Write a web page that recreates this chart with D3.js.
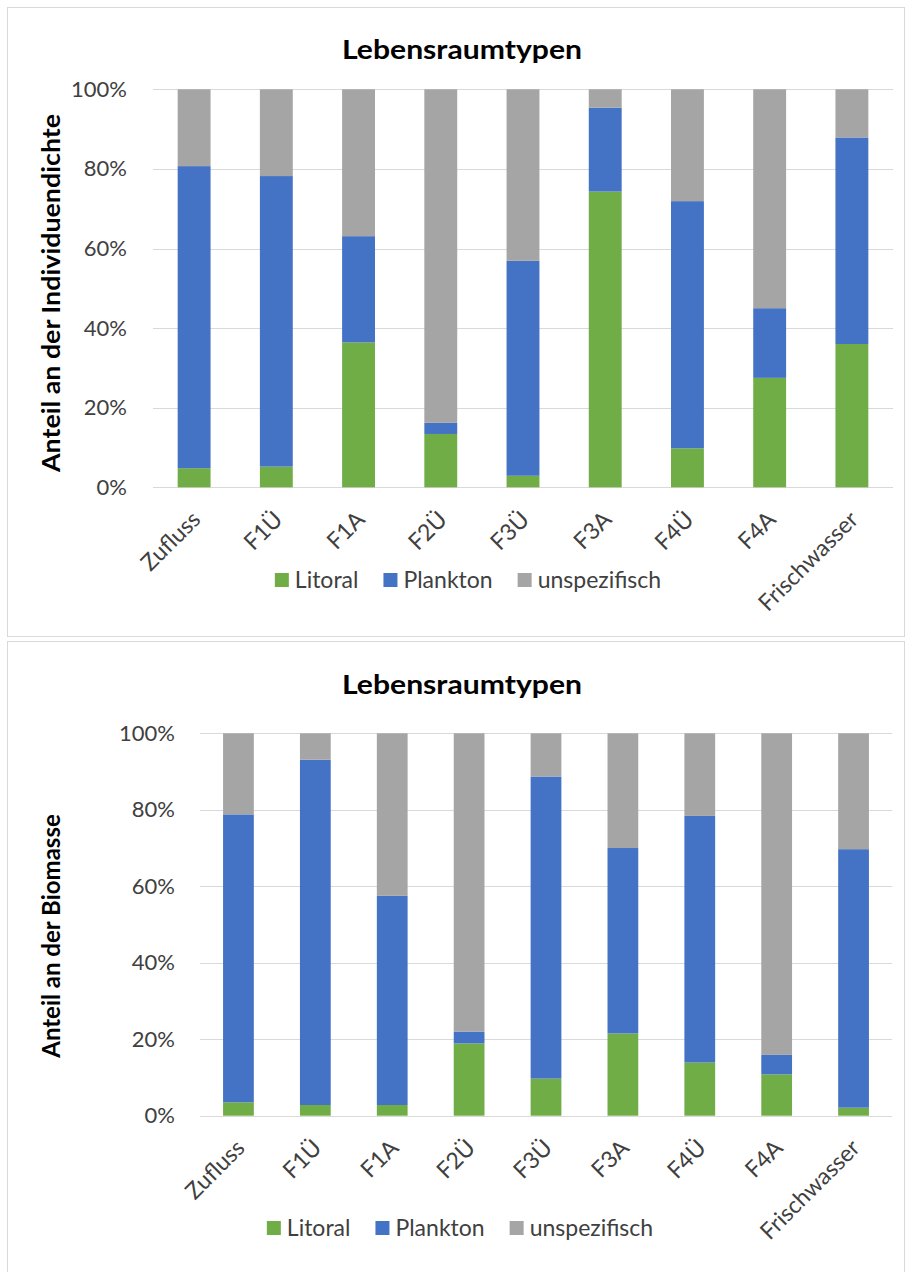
<!DOCTYPE html>
<html>
<head>
<meta charset="utf-8">
<script src="https://cdn.jsdelivr.net/npm/d3@7"></script>
<style>
  html, body { margin: 0; padding: 0; background: #fff; }
  svg { display: block; font-family: Lato, "Open Sans", sans-serif; }
</style>
</head>
<body>
<svg id="chart" width="907" height="1272"></svg>
<script>
// ---- data ----
const categories = ["Zufluss", "F1Ü", "F1A", "F2Ü", "F3Ü", "F3A", "F4Ü", "F4A", "Frischwasser"];
const seriesNames = ["Litoral", "Plankton", "unspezifisch"];
const seriesColors = ["#70AD47", "#4472C4", "#A5A5A5"];
const yTicks = [0, 0.2, 0.4, 0.6, 0.8, 1.0];

// Anteil an der Individuendichte (%)
const dichteLitoral      = [4.8, 5.2, 36.4, 13.4, 2.9, 74.3, 9.8, 27.5, 36.0];
const dichtePlankton     = [75.9, 73.0, 26.7, 2.8, 54.0, 21.1, 62.1, 17.5, 51.9];
const dichteUnspezifisch = [19.3, 21.8, 36.9, 83.8, 43.1, 4.6, 28.1, 55.0, 12.1];

// Anteil an der Biomasse (%)
const biomasseLitoral      = [3.5, 2.8, 2.8, 18.9, 9.7, 21.5, 13.9, 10.8, 2.1];
const biomassePlankton     = [75.3, 90.3, 54.7, 3.1, 79.0, 48.5, 64.5, 5.1, 67.6];
const biomasseUnspezifisch = [21.2, 6.9, 42.5, 78.0, 11.3, 30.0, 21.6, 84.1, 30.3];

const svg = d3.select("#chart");

function drawPanel(opts) {
  const g = svg.append("g");
  // panel border
  g.append("rect")
    .attr("x", 7.5).attr("y", opts.panelTop + 0.5)
    .attr("width", 897).attr("height", opts.panelHeight)
    .attr("fill", "#fff").attr("stroke", "#d9d9d9").attr("stroke-width", 1);

  const rows = categories.map((c, i) => {
    const r = { cat: c };
    seriesNames.forEach((s, k) => r[s] = opts.series[k][i] / 100);
    return r;
  });
  const stacked = d3.stack().keys(seriesNames)(rows);

  const x = d3.scaleBand().domain(categories)
    .range([opts.left, opts.right]).paddingInner(0.6).paddingOuter(0.3);
  const y = d3.scaleLinear().domain([0, 1]).range([opts.bottom, opts.top]);

  // gridlines
  g.append("g").selectAll("line").data(yTicks).join("line")
    .attr("x1", opts.left).attr("x2", opts.right)
    .attr("y1", d => Math.round(y(d)) + 0.5).attr("y2", d => Math.round(y(d)) + 0.5)
    .attr("stroke", "#d9d9d9").attr("stroke-width", 1);

  // bars
  g.append("g").selectAll("g").data(stacked).join("g")
    .attr("fill", (d, i) => seriesColors[i])
    .selectAll("rect").data(d => d).join("rect")
    .attr("x", d => x(d.data.cat))
    .attr("width", x.bandwidth())
    .attr("y", d => y(d[1]))
    .attr("height", d => y(d[0]) - y(d[1]));

  // y axis
  const yAxis = g.append("g").attr("transform", `translate(${opts.left},0)`)
    .call(d3.axisLeft(y).tickValues(yTicks).tickFormat(d3.format(".0%")).tickSize(0).tickPadding(opts.yPad));
  yAxis.select(".domain").remove();
  yAxis.selectAll("text").attr("fill", "#404040").style("font-size", "22px").style("font-family", "Lato, sans-serif");

  // x axis
  const xAxis = g.append("g").attr("transform", `translate(0,${opts.bottom})`)
    .call(d3.axisBottom(x).tickSize(0));
  xAxis.select(".domain").remove();
  xAxis.selectAll("text")
    .attr("x", 0).attr("y", 0).attr("dy", "0.35em")
    .attr("transform", "translate(2,28) rotate(-45)")
    .style("text-anchor", "end")
    .attr("fill", "#404040").style("font-size", "23px").style("font-family", "Lato, sans-serif");

  // title
  g.append("text").attr("x", 462).attr("y", opts.titleY)
    .attr("text-anchor", "middle").attr("font-weight", "bold")
    .attr("font-size", 27).attr("fill", "#000")
    .attr("textLength", 240).attr("lengthAdjust", "spacingAndGlyphs")
    .text("Lebensraumtypen");

  // y axis title
  const yt = g.append("text")
    .attr("transform", `translate(${opts.yTitleX},${opts.yTitleY}) rotate(-90)`)
    .attr("text-anchor", "middle").attr("dominant-baseline", "central")
    .attr("font-weight", "bold").attr("font-size", 24).attr("fill", "#000")
    .text(opts.yTitle);
  if (opts.yTitleLen) yt.attr("textLength", opts.yTitleLen).attr("lengthAdjust", "spacingAndGlyphs");

  // legend
  const leg = g.append("g");
  const items = leg.selectAll("g").data(seriesNames).join("g");
  items.append("rect").attr("width", 14).attr("height", 14).attr("y", -7)
    .attr("fill", (d, i) => seriesColors[i]);
  items.append("text").attr("x", 20).attr("dy", "0.35em")
    .attr("font-size", 23).attr("fill", "#404040").text(d => d);
  let cx = 0;
  items.each(function () {
    d3.select(this).attr("transform", `translate(${cx},0)`);
    cx += this.getBBox().width + 25;
  });
  const total = cx - 25;
  leg.attr("transform", `translate(${opts.legendCenter - total / 2},${opts.legendY})`);
}

drawPanel({
  panelTop: 7, panelHeight: 629,
  left: 153, right: 893, top: 89.3, bottom: 487.3, yPad: 26,
  titleY: 59, yTitle: "Anteil an der Individuendichte", yTitleX: 50, yTitleY: 293, yTitleLen: 358,
  legendY: 580, legendCenter: 468,
  series: [dichteLitoral, dichtePlankton, dichteUnspezifisch]
});

drawPanel({
  panelTop: 641, panelHeight: 640,
  left: 200, right: 892, top: 733.3, bottom: 1115.7, yPad: 25,
  titleY: 694, yTitle: "Anteil an der Biomasse", yTitleX: 50, yTitleY: 936,
  legendY: 1228, legendCenter: 460,
  series: [biomasseLitoral, biomassePlankton, biomasseUnspezifisch]
});
</script>
</body>
</html>
